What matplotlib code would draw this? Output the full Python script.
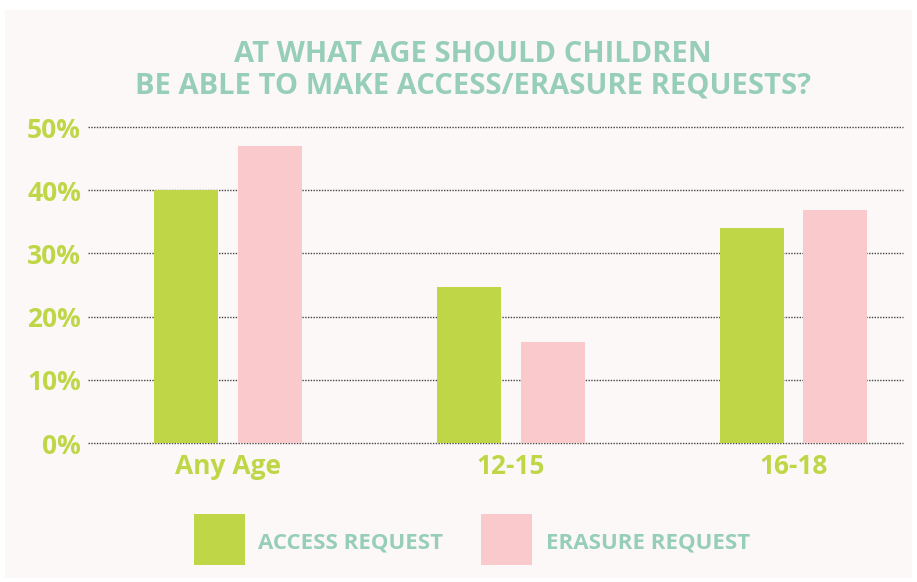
import matplotlib.pyplot as plt
import numpy as np
from matplotlib.patches import Rectangle

# data
categories = ['Any Age', '12-15', '16-18']
access = [40, 24.7, 34]
erasure = [47, 16, 36.9]
yticks = [0, 10, 20, 30, 40, 50]
ytick_labels = ['0%', '10%', '20%', '30%', '40%', '50%']

green = '#BFD747'
pink = '#F9C9CB'
teal = '#96CEB9'
bg = '#FCF8F7'

fig = plt.figure(figsize=(9.17, 5.82), dpi=100)
fig.patch.set_facecolor('white')
fig.patches.append(Rectangle((5 / 917, 4 / 582), 907 / 917, 568 / 582,
                             transform=fig.transFigure, facecolor=bg,
                             edgecolor='none', zorder=-10))

ax = fig.add_axes([88 / 917, 1 - 443 / 582, (903 - 88) / 917, (443 - 127) / 582])
ax.set_facecolor('none')
ax.set_zorder(5)

x = np.arange(len(categories))
width = 0.226
off = 0.148
ax.bar(x - off, access, width, color=green, zorder=2)
ax.bar(x + off, erasure, width, color=pink, zorder=2)

ax.set_xlim(-0.495, 2.387)
ax.set_ylim(0, 50)
ax.set_yticks(yticks)
ax.set_yticklabels(ytick_labels)
ax.set_xticks(x)
ax.set_xticklabels(categories)
for lab in ax.get_yticklabels() + ax.get_xticklabels():
    lab.set_fontfamily('Open Sans')
    lab.set_fontweight('bold')
    lab.set_fontsize(19)
    lab.set_color(green)
ax.tick_params(axis='y', length=0, pad=5)
ax.tick_params(axis='x', length=0, pad=7)
for s in ax.spines.values():
    s.set_visible(False)
ax.yaxis.grid(True, linestyle=(0, (1, 1)), linewidth=1.0, color='#444444', zorder=1)
ax.set_axisbelow(True)
for gl in ax.get_ygridlines():
    gl.set_clip_on(False)

fig.text(473 / 917, 1 - 62 / 582, 'AT WHAT AGE SHOULD CHILDREN', ha='center', va='baseline',
         color=teal, fontsize=21, fontweight='bold', family='Open Sans')
fig.text(473 / 917, 1 - 93 / 582, 'BE ABLE TO MAKE ACCESS/ERASURE REQUESTS?', ha='center',
         va='baseline', color=teal, fontsize=21, fontweight='bold', family='Open Sans')

# legend
fig.patches.append(Rectangle((194 / 917, 1 - 565 / 582), 51 / 917, 51 / 582,
                             transform=fig.transFigure, facecolor=green, edgecolor='none'))
fig.patches.append(Rectangle((481 / 917, 1 - 565 / 582), 51 / 917, 51 / 582,
                             transform=fig.transFigure, facecolor=pink, edgecolor='none'))
fig.text(258 / 917, 1 - 548 / 582, 'ACCESS REQUEST', ha='left', va='baseline',
         color=teal, fontsize=16, fontweight='bold', family='Open Sans')
fig.text(546 / 917, 1 - 548 / 582, 'ERASURE REQUEST', ha='left', va='baseline',
         color=teal, fontsize=16, fontweight='bold', family='Open Sans')

fig.savefig('out.png', dpi=100, facecolor=fig.get_facecolor())
